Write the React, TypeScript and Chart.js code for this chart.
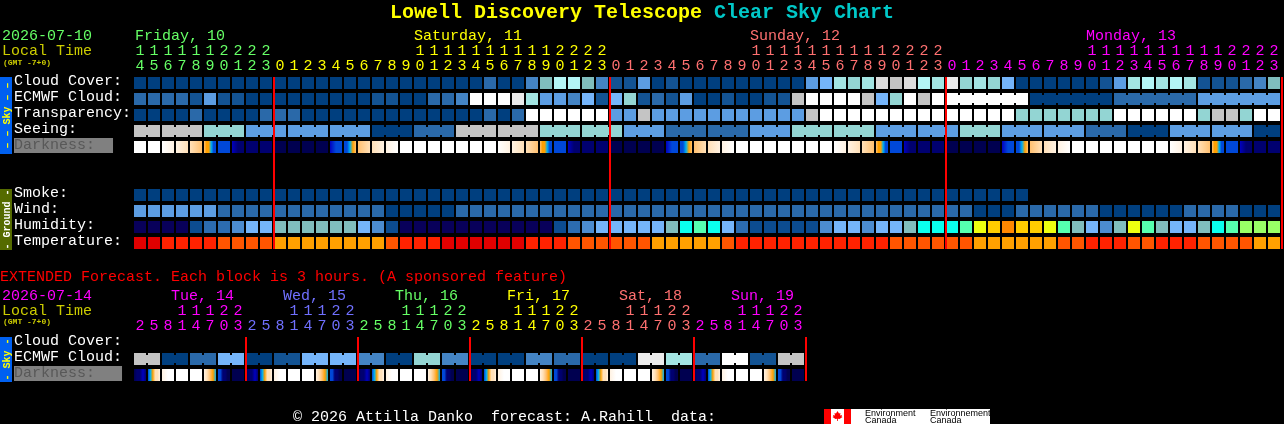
import { useEffect, useRef } from "react";
import { Chart, registerables } from "chart.js";

Chart.register(...registerables);

const MONO = "'Liberation Mono'";

// sky condition levels, 0 = clear/good ... 13 = overcast/poor
const cloudColors = [
  "#003F7F", "#135393", "#2A69A9", "#4484C4", "#5C9DE2", "#75B5FA", "#80BEBE",
  "#93D5D3", "#A3E5E3", "#B3F6F6", "#EBEBEB", "#DCDCDC", "#C4C4C4", "#FFFFFF",
];
const humidityColors = [
  "#08005A", "#0C4C90", "#2C6CB0", "#4C8CD0", "#75B5FA", "#80BEBE", "#0AFFEE",
  "#55FFAF", "#99FF66", "#EEFF10", "#FFCC00", "#FF8800",
];
const temperatureColors = ["#E00000", "#FF2200", "#FF5500", "#FFA000"];
const darknessColors = [
  "#000050", "#000070", "#0000C0", "#0048D8", "#00B0F0", "#FFA000", "#FFC070",
  "#FFE0B8", "#FFF2E2", "#FFFFFF",
];

const mainRows = [
  "Cloud Cover:", "ECMWF Cloud:", "Transparency:", "Seeing:", "Darkness:  ", " ", "  ",
  "Smoke:", "Wind:", "Humidity:", "Temperature:",
];
const extendedRows = ["Cloud Cover:", "ECMWF Cloud:", "Darkness:   "];

const mainHours = [
  14, 15, 16, 17, 18, 19, 20, 21, 22, 23,
  0, 1, 2, 3, 4, 5, 6, 7, 8, 9, 10, 11, 12, 13, 14, 15, 16, 17, 18, 19, 20, 21, 22, 23,
  0, 1, 2, 3, 4, 5, 6, 7, 8, 9, 10, 11, 12, 13, 14, 15, 16, 17, 18, 19, 20, 21, 22, 23,
  0, 1, 2, 3, 4, 5, 6, 7, 8, 9, 10, 11, 12, 13, 14, 15, 16, 17, 18, 19, 20, 21, 22, 23,
];
const mainDayLengths = [10, 24, 24, 24];
const mainDayColors = ["#66FF66", "#FFFF00", "#FF7070", "#FF00FF"];
const mainRules = [10, 34, 58, 82];

const extendedHours = [
  2, 5, 8, 11, 14, 17, 20, 23, 2, 5, 8, 11, 14, 17, 20, 23, 2, 5, 8, 11, 14, 17, 20, 23,
  2, 5, 8, 11, 14, 17, 20, 23, 2, 5, 8, 11, 14, 17, 20, 23, 2, 5, 8, 11, 14, 17, 20, 23,
];
const extendedDayLengths = [8, 8, 8, 8, 8, 8];
const extendedDayColors = ["#FF00FF", "#7070FF", "#66FF66", "#FFFF00", "#FF7070", "#FF00FF"];
const extendedRules = [8, 16, 24, 32, 40, 48];

const cloudCover = [
  0, 0, 0, 0, 0, 0, 0, 0, 0, 0,
  0, 0, 0, 0, 0, 0, 0, 0, 0, 0,
  0, 0, 0, 0, 0, 2, 0, 0, 3, 6,
  9, 9, 6, 3, 1, 1, 4, 0, 1, 0,
  0, 0, 0, 0, 0, 0, 0, 0, 4, 5,
  8, 7, 8, 11, 12, 11, 9, 8, 10, 7,
  8, 7, 5, 0, 0, 0, 0, 0, 0, 1,
  4, 8, 9, 8, 9, 8, 1, 1, 1, 2, 3, 6,
];
const ecmwfCloud = [
  2, 2, 2, 2, 1, 4, 1, 1, 0, 0,
  0, 0, 0, 0, 0, 0, 0, 1, 1, 0,
  0, 2, 2, 3, 13, 13, 13, 10, 8, 4,
  4, 3, 5, 1, 5, 7, 1, 2, 1, 4,
  0, 0, 1, 0, 0, 1, 1, 12, 13, 13,
  13, 13, 12, 5, 7, 13, 12, 13, 13, 13,
  13, 13, 13, 13, 0, 0, 0, 0, 0, 0,
  2, 2, 2, 2, 2, 2, 4, 4, 4, 4, 4, 4,
];
const ecmwfRuns = [[58, 63], [64, 69], [70, 75], [76, 81]];
const transparency = [
  0, 0, 0, 0, 2, 0, 0, 0, 0, 2,
  2, 2, 0, 0, 0, 0, 0, 0, 0, 0,
  0, 0, 0, 0, 0, 2, 0, 2, 13, 13,
  13, 13, 13, 13, 4, 4, 12, 4, 4, 4,
  4, 4, 4, 4, 4, 4, 4, 4, 12, 13,
  13, 13, 13, 13, 13, 13, 13, 13, 13, 13,
  13, 13, 13, 7, 7, 7, 7, 7, 7, 7,
  13, 13, 13, 13, 13, 13, 7, 12, 12, 7, 13, 13,
];
const seeing = [
  12, 12, 12, 12, 12, 7, 7, 7, 4, 4,
  4, 4, 4, 4, 4, 4, 4, 0, 0, 0,
  2, 2, 2, 12, 12, 12, 12, 12, 12, 7,
  7, 7, 7, 7, 7, 4, 4, 4, 2, 2,
  2, 2, 2, 2, 4, 4, 4, 7, 7, 7,
  7, 7, 7, 4, 4, 4, 4, 4, 4, 7,
  7, 7, 4, 4, 4, 4, 4, 4, 2, 2,
  2, 0, 0, 0, 4, 4, 4, 4, 4, 4, 0, 0,
];
const seeingRuns = [
  [0, 1], [2, 4], [5, 7], [8, 10], [11, 13], [14, 16], [17, 19], [20, 22], [23, 25], [26, 28],
  [29, 31], [32, 34], [35, 37], [38, 40], [41, 43], [44, 46], [47, 49], [50, 52], [53, 55],
  [56, 58], [59, 61], [62, 64], [65, 67], [68, 70], [71, 73], [74, 76], [77, 79], [80, 81],
];

// darkness: brightness levels sweeping across each block
const DAY = [9];
const FADE_A = [9, 8];
const FADE_B = [8, 7];
const FADE_C = [7, 6];
const DUSK = [6, 5, 5, 4, 3, 3];
const BLUE = [3];
const DEEP = [2, 1, 1];
const DIM = [1];
const NIGHT = [0];
const RISE = [2, 3, 3];
const DAWN = [3, 3, 4, 5, 6];
const GLOW_A = [6, 7];
const GLOW_B = [7, 8];
const GLOW_C = [8, 9];
const darkness = [
  DAY, DAY, FADE_A, FADE_B, FADE_C, DUSK, BLUE, DEEP, DIM, DIM,
  NIGHT, NIGHT, NIGHT, NIGHT, RISE, DAWN, GLOW_A, GLOW_B, GLOW_C, DAY,
  DAY, DAY, DAY, DAY, DAY, DAY, FADE_A, FADE_B, FADE_C, DUSK,
  BLUE, DEEP, DIM, DIM, NIGHT, NIGHT, NIGHT, NIGHT, RISE, DAWN,
  GLOW_A, GLOW_B, GLOW_C, DAY, DAY, DAY, DAY, DAY, DAY, DAY,
  FADE_A, FADE_B, FADE_C, DUSK, BLUE, DEEP, DIM, DIM, NIGHT, NIGHT,
  NIGHT, NIGHT, RISE, DAWN, GLOW_A, GLOW_B, GLOW_C, DAY, DAY, DAY,
  DAY, DAY, DAY, DAY, FADE_A, FADE_B, FADE_C, DUSK, BLUE, DEEP, DIM, DIM,
];

const smoke = [
  0, 0, 0, 0, 0, 0, 0, 0, 0, 0,
  0, 0, 0, 0, 0, 0, 0, 0, 0, 0,
  0, 0, 0, 0, 0, 0, 0, 0, 0, 0,
  0, 0, 0, 0, 0, 0, 0, 0, 0, 0,
  0, 0, 0, 0, 0, 0, 0, 0, 0, 0,
  0, 0, 0, 0, 0, 0, 0, 0, 0, 0,
  0, 0, 0, 0,
];
const wind = [
  4, 4, 4, 4, 4, 4, 2, 2, 2, 2,
  2, 2, 2, 2, 2, 2, 2, 2, 0, 0,
  0, 0, 0, 2, 2, 2, 2, 2, 2, 2,
  2, 2, 2, 2, 2, 2, 2, 2, 2, 2,
  2, 2, 2, 2, 2, 2, 2, 2, 2, 2,
  2, 2, 2, 2, 2, 2, 2, 2, 2, 2,
  0, 0, 0, 2, 2, 2, 2, 2, 2, 0,
  0, 0, 0, 0, 0, 2, 2, 2, 2, 0, 0, 0,
];
const humidity = [
  0, 0, 0, 0, 1, 2, 2, 3, 4, 4,
  5, 5, 5, 5, 5, 5, 4, 3, 1, 0,
  0, 0, 0, 0, 0, 0, 0, 0, 0, 0,
  1, 2, 3, 4, 4, 4, 4, 4, 5, 6,
  7, 6, 4, 2, 1, 1, 1, 1, 1, 3,
  4, 4, 3, 4, 4, 5, 6, 6, 6, 7,
  9, 10, 11, 10, 10, 9, 7, 5, 4, 3,
  5, 9, 7, 5, 4, 4, 5, 6, 7, 8, 8, 8,
];
const temperature = [
  0, 0, 1, 1, 1, 1, 2, 2, 2, 2,
  3, 3, 3, 3, 3, 3, 3, 3, 2, 1,
  1, 1, 0, 0, 0, 0, 0, 0, 1, 1,
  1, 2, 2, 2, 2, 2, 2, 3, 3, 3,
  3, 3, 2, 1, 1, 1, 1, 1, 1, 1,
  1, 1, 1, 1, 2, 2, 2, 2, 2, 2,
  3, 3, 3, 3, 3, 3, 2, 2, 1, 1,
  1, 2, 2, 1, 1, 1, 2, 2, 2, 2, 3, 3,
];

const extendedEcmwf = [
  12, 12, 0, 0, 2, 2, 5, 5,
  0, 0, 1, 1, 5, 5, 5, 5,
  3, 3, 0, 0, 7, 7, 3, 3,
  0, 0, 0, 0, 3, 3, 2, 2,
  0, 0, 0, 0, 10, 10, 8, 8,
  2, 2, 13, 13, 1, 1, 12, 12,
];
const extendedRuns = [
  [0, 1], [2, 3], [4, 5], [6, 7], [8, 9], [10, 11], [12, 13], [14, 15],
  [16, 17], [18, 19], [20, 21], [22, 23], [24, 25], [26, 27], [28, 29], [30, 31],
  [32, 33], [34, 35], [36, 37], [38, 39], [40, 41], [42, 43], [44, 45], [46, 47],
];
const X_SET = [0, 1, 1, 2, 1];
const X_RISE = [3, 4, 5, 7, 7, 8];
const X_MORN = [8, 9, 9];
const X_EVE = [8, 7, 6, 5, 4];
const X_DUSK = [3, 3, 1, 1, 0, 0];
const extendedDarkness = [
  X_SET, X_RISE, X_MORN, DAY, DAY, X_EVE, X_DUSK, NIGHT,
  X_SET, X_RISE, X_MORN, DAY, DAY, X_EVE, X_DUSK, NIGHT,
  X_SET, X_RISE, X_MORN, DAY, DAY, X_EVE, X_DUSK, NIGHT,
  X_SET, X_RISE, X_MORN, DAY, DAY, X_EVE, X_DUSK, NIGHT,
  X_SET, X_RISE, X_MORN, DAY, DAY, X_EVE, X_DUSK, NIGHT,
  X_SET, X_RISE, X_MORN, DAY, DAY, X_EVE, X_DUSK, NIGHT,
];

// free text on the sheet: [text, x, baseline, font, colour]
const REGULAR = `15px ${MONO}`;
const SMALL = `bold 8px ${MONO}`;
const sheetText: [string, number, number, string, string][] = [
  ["Lowell Discovery Telescope", 390, 18, `bold 20px ${MONO}`, "#FFFF00"],
  ["Clear Sky Chart", 714, 18, `bold 20px ${MONO}`, "#00C8C8"],
  ["2026-07-10", 2, 40, REGULAR, "#66FF66"],
  ["Local Time", 2, 55, REGULAR, "#CCCC00"],
  ["(GMT -7+0)", 3, 65, SMALL, "#CCCC00"],
  ["Friday, 10", 135, 40, REGULAR, "#66FF66"],
  ["Saturday, 11", 414, 40, REGULAR, "#FFFF00"],
  ["Sunday, 12", 750, 40, REGULAR, "#FF7070"],
  ["Monday, 13", 1086, 40, REGULAR, "#FF00FF"],
  ["EXTENDED Forecast. Each block is 3 hours. (A sponsored feature)", 0, 281, REGULAR, "#FF0000"],
  ["2026-07-14", 2, 300, REGULAR, "#FF00FF"],
  ["Local Time", 2, 315, REGULAR, "#CCCC00"],
  ["(GMT -7+0)", 3, 324, SMALL, "#CCCC00"],
  ["Tue, 14", 171, 300, REGULAR, "#FF00FF"],
  ["Wed, 15", 283, 300, REGULAR, "#7070FF"],
  ["Thu, 16", 395, 300, REGULAR, "#66FF66"],
  ["Fri, 17", 507, 300, REGULAR, "#FFFF00"],
  ["Sat, 18", 619, 300, REGULAR, "#FF7070"],
  ["Sun, 19", 731, 300, REGULAR, "#FF00FF"],
  ["© 2026 Attilla Danko  forecast: A.Rahill  data:", 293, 421, REGULAR, "#FFFFFF"],
];
// side bands: [label, top, bottom, fill, text colour]
const sideBands: [string, number, number, string, string][] = [
  ["– – Sky – –", 77, 154, "#0060F0", "#FFFF00"],
  ["- Ground -", 189, 250, "#556B00", "#FFFFFF"],
  ["- Sky -", 337, 382, "#0060F0", "#FFFF00"],
];
const creditLines: [string, number, number][] = [
  ["Environment", 865, 416],
  ["Canada", 865, 423],
  ["Environnement", 930, 416],
  ["Canada", 930, 423],
];

const CELL = 6 / 7; // 12px block in a 14px slot

function lookup(levels: number[], palette: string[]) {
  return levels.map((level) => palette[level]);
}

function cellBars(row: string, levels: number[], palette: string[]) {
  return {
    type: "bar" as const,
    indexAxis: "y" as const,
    xAxisID: "x",
    yAxisID: "y",
    grouped: false,
    barThickness: 12,
    borderWidth: 0,
    inflateAmount: 0,
    order: 2,
    data: levels.map((_, i) => ({ x: [i, i + CELL], y: row })),
    backgroundColor: lookup(levels, palette),
  };
}

// narrow bridges between blocks that belong to one forecast step
function bridgeBars(row: string, levels: number[], runs: number[][], palette: string[]) {
  const data: { x: number[]; y: string }[] = [];
  const colors: string[] = [];
  runs.forEach(([first, last]) => {
    for (let i = first; i < last; i++) {
      data.push({ x: [i + CELL, i + 1], y: row });
      colors.push(palette[levels[i]]);
    }
  });
  return {
    type: "bar" as const,
    indexAxis: "y" as const,
    xAxisID: "x",
    yAxisID: "y",
    grouped: false,
    barThickness: 8,
    borderWidth: 0,
    inflateAmount: 0,
    order: 2,
    data,
    backgroundColor: colors,
  };
}

function darknessBars(row: string, sweeps: number[][]) {
  return {
    type: "bar" as const,
    indexAxis: "y" as const,
    xAxisID: "x",
    yAxisID: "y",
    grouped: false,
    barThickness: 12,
    borderWidth: 0,
    inflateAmount: 0,
    order: 2,
    data: sweeps.map((_, i) => ({ x: [i, i + CELL], y: row })),
    backgroundColor: (ctx: any) => {
      const stops = sweeps[ctx.dataIndex];
      const scale = ctx.chart.scales.x;
      if (!stops || !scale) return "#000000";
      if (stops.length === 1) return darknessColors[stops[0]];
      const from = scale.getPixelForValue(ctx.dataIndex);
      const to = scale.getPixelForValue(ctx.dataIndex + CELL);
      // the scale has no pixels yet on the first pass
      if (!Number.isFinite(from) || !Number.isFinite(to)) return darknessColors[stops[0]];
      const gradient = ctx.chart.ctx.createLinearGradient(from, 0, to, 0);
      stops.forEach((level, i) => {
        gradient.addColorStop(i / (stops.length - 1), darknessColors[level]);
      });
      return gradient;
    },
  };
}

function ruleLines(rules: number[], rowCount: number) {
  return rules.map((at) => ({
    type: "line" as const,
    xAxisID: "x",
    yAxisID: "yRule",
    borderColor: "#FF0000",
    borderWidth: 2,
    pointRadius: 0,
    clip: false as const,
    order: 1,
    data: [
      { x: at, y: -0.375 },
      { x: at, y: rowCount - 1 + 0.375 },
    ],
  }));
}

function hourTicks(hours: number[]) {
  return hours.map((h) => [h >= 10 ? String(Math.floor(h / 10)) : "", String(h % 10)]);
}

function colorAt(index: number, lengths: number[], colors: string[]) {
  let end = 0;
  for (let i = 0; i < lengths.length; i++) {
    end += lengths[i];
    if (index < end) return colors[i];
  }
  return colors[colors.length - 1];
}

function stripOptions(opts: {
  rows: string[];
  hours: number[];
  dayLengths: number[];
  dayColors: string[];
  top: number;
  bottom: number;
}) {
  const { rows, hours, dayLengths, dayColors, top, bottom } = opts;
  return {
    responsive: false,
    animation: false as const,
    devicePixelRatio: 1,
    events: [],
    layout: {
      padding: {
        left: 14,
        right: 1284 - (134 + hours.length * 14),
        top: 0,
        bottom: 424 - bottom,
      },
    },
    plugins: {
      legend: { display: false },
      title: { display: false },
      tooltip: { enabled: false },
    },
    scales: {
      x: { type: "linear" as const, min: 0, max: hours.length, offset: false, display: false },
      hours: {
        axis: "x" as const,
        type: "category" as const,
        position: "top" as const,
        labels: hourTicks(hours),
        offset: true,
        grid: { display: false, drawTicks: false },
        border: { display: false },
        afterFit: (scale: any) => {
          scale.height = top;
        },
        ticks: {
          autoSkip: false,
          maxRotation: 0,
          minRotation: 0,
          padding: 1,
          labelOffset: -1,
          font: { family: MONO, size: 15, lineHeight: "15px" },
          color: (ctx: any) => colorAt(ctx.index, dayLengths, dayColors),
        },
      },
      y: {
        type: "category" as const,
        position: "left" as const,
        labels: rows,
        offset: true,
        grid: { display: false, drawTicks: false },
        border: { display: false },
        afterFit: (scale: any) => {
          scale.width = 120;
        },
        ticks: {
          autoSkip: false,
          crossAlign: "far" as const,
          padding: 0,
          labelOffset: -1.5,
          font: { family: MONO, size: 15, lineHeight: "15px" },
          color: (ctx: any) => (rows[ctx.index].startsWith("Darkness") ? "#585858" : "#FFFFFF"),
          showLabelBackdrop: (ctx: any) => rows[ctx.index].startsWith("Darkness"),
          backdropColor: "#808080",
          backdropPadding: 0,
        },
      },
      yRule: {
        axis: "y" as const,
        type: "linear" as const,
        min: -0.5,
        max: rows.length - 0.5,
        reverse: true,
        display: false,
      },
    },
  };
}

function drawFlagLeaf(ctx: CanvasRenderingContext2D, cx: number, top: number) {
  const leaf = [
    [0, 0], [1.5, 2.5], [3, 2], [2.5, 4.5], [4.5, 4], [4, 5.5], [5, 6], [2, 8], [0.4, 7.8], [0.4, 10],
    [-0.4, 10], [-0.4, 7.8], [-2, 8], [-5, 6], [-4, 5.5], [-4.5, 4], [-2.5, 4.5], [-3, 2], [-1.5, 2.5],
  ];
  ctx.fillStyle = "#FF0000";
  ctx.beginPath();
  leaf.forEach(([dx, dy], i) => {
    if (i === 0) ctx.moveTo(cx + dx, top + dy);
    else ctx.lineTo(cx + dx, top + dy);
  });
  ctx.closePath();
  ctx.fill();
}

const sheetPlugin = {
  id: "sheet",
  afterDraw(chart: Chart) {
    const { ctx } = chart;
    ctx.save();
    ctx.textBaseline = "alphabetic";
    ctx.textAlign = "left";
    sheetText.forEach(([text, x, y, font, color]) => {
      ctx.font = font;
      ctx.fillStyle = color;
      ctx.fillText(text, x, y);
    });

    sideBands.forEach(([label, top, bottom, fill, color]) => {
      ctx.fillStyle = fill;
      ctx.fillRect(0, top, 12, bottom - top);
      ctx.save();
      ctx.translate(9.5, (top + bottom) / 2);
      ctx.rotate(-Math.PI / 2);
      ctx.textAlign = "center";
      ctx.font = `bold 10px ${MONO}`;
      ctx.fillStyle = color;
      ctx.fillText(label, 0, 0);
      ctx.restore();
    });

    // data credit logo
    ctx.fillStyle = "#FFFFFF";
    ctx.fillRect(824, 409, 166, 15);
    ctx.fillStyle = "#FF0000";
    ctx.fillRect(824, 409, 7, 15);
    ctx.fillRect(844, 409, 7, 15);
    drawFlagLeaf(ctx, 837.5, 411);
    ctx.font = "9px 'Liberation Sans'";
    ctx.fillStyle = "#000000";
    creditLines.forEach(([text, x, y]) => ctx.fillText(text, x, y));
    ctx.restore();
  },
};

export default function App() {
  const mainRef = useRef<HTMLCanvasElement>(null);
  const extendedRef = useRef<HTMLCanvasElement>(null);

  useEffect(() => {
    document.body.style.margin = "0";
    document.body.style.background = "#000";

    const mainChart = new Chart(mainRef.current!, {
      type: "bar",
      data: {
        datasets: [
          cellBars(mainRows[0], cloudCover, cloudColors),
          cellBars(mainRows[1], ecmwfCloud, cloudColors),
          bridgeBars(mainRows[1], ecmwfCloud, ecmwfRuns, cloudColors),
          cellBars(mainRows[2], transparency, cloudColors),
          cellBars(mainRows[3], seeing, cloudColors),
          bridgeBars(mainRows[3], seeing, seeingRuns, cloudColors),
          darknessBars(mainRows[4], darkness),
          cellBars(mainRows[7], smoke, cloudColors),
          cellBars(mainRows[8], wind, cloudColors),
          cellBars(mainRows[9], humidity, humidityColors),
          cellBars(mainRows[10], temperature, temperatureColors),
          ...ruleLines(mainRules, mainRows.length),
        ] as any,
      },
      options: stripOptions({
        rows: mainRows,
        hours: mainHours,
        dayLengths: mainDayLengths,
        dayColors: mainDayColors,
        top: 75,
        bottom: 251,
      }) as any,
      plugins: [sheetPlugin],
    });

    const extendedChart = new Chart(extendedRef.current!, {
      type: "bar",
      data: {
        datasets: [
          cellBars(extendedRows[1], extendedEcmwf, cloudColors),
          bridgeBars(extendedRows[1], extendedEcmwf, extendedRuns, cloudColors),
          darknessBars(extendedRows[2], extendedDarkness),
          ...ruleLines(extendedRules, extendedRows.length),
        ] as any,
      },
      options: stripOptions({
        rows: extendedRows,
        hours: extendedHours,
        dayLengths: extendedDayLengths,
        dayColors: extendedDayColors,
        top: 335,
        bottom: 383,
      }) as any,
    });

    return () => {
      mainChart.destroy();
      extendedChart.destroy();
    };
  }, []);

  const layer = { position: "absolute", left: 0, top: 0 } as const;
  return (
    <div style={{ position: "absolute", left: 0, top: 0, width: 1284, height: 424, background: "#000", overflow: "hidden" }}>
      <canvas ref={mainRef} width={1284} height={424} style={layer}></canvas>
      <canvas ref={extendedRef} width={1284} height={424} style={layer}></canvas>
    </div>
  );
}
